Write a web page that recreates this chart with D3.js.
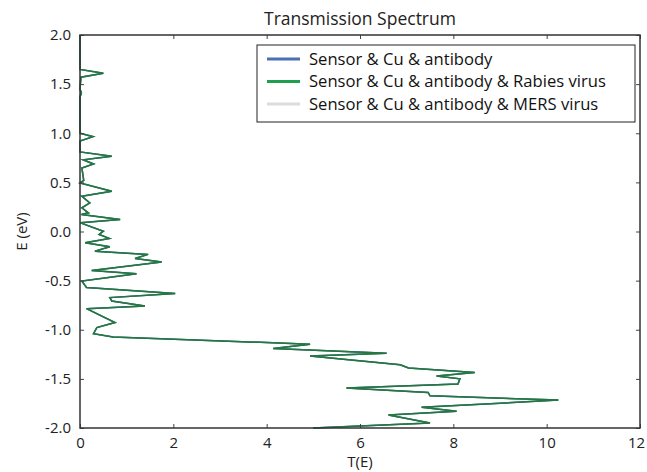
<!DOCTYPE html>
<html>
<head>
<meta charset="utf-8">
<script src="https://cdn.jsdelivr.net/npm/d3@7.9.0/dist/d3.min.js"></script>
<style>
  body { margin: 0; background: #fff; }
  svg { display: block; font-family: "Open Sans", sans-serif; }
</style>
</head>
<body>
<svg id="chart" width="647" height="472"></svg>
<script>
// energy grid (eV) from top to bottom
const energy = [
  2.0, 1.65, 1.611, 1.57, 1.45, 1.41, 1.37, 1.0, 0.965, 0.92,
  0.81, 0.765, 0.73, 0.687, 0.647, 0.52, 0.494, 0.41, 0.358, 0.29,
  0.24, 0.19, 0.173, 0.122, 0.088, 0.003, -0.03, -0.07, -0.115, -0.155,
  -0.2, -0.233, -0.274, -0.31, -0.396, -0.43, -0.505, -0.57, -0.63, -0.673,
  -0.707, -0.758, -0.785, -0.927, -0.978, -1.04, -1.073, -1.147, -1.19, -1.24,
  -1.266, -1.357, -1.39, -1.435, -1.47, -1.5, -1.553, -1.594, -1.638, -1.672,
  -1.716, -1.79, -1.83, -1.868, -1.95, -2.0
];

// transmission T(E) - the three curves lie on top of each other
const transmission = [
  0, 0, 0.5, 0.02, 0, 0.03, 0, 0, 0.28, 0,
  0, 0.68, 0.07, 0.29, 0.04, 0.08, 0, 0.68, 0.04, 0.21,
  0.04, 0.18, 0.03, 0.86, 0.01, 0.5, 0.41, 0.63, 0.11, 0.64,
  0.32, 1.46, 1.18, 1.75, 0.25, 1.21, 0.04, 0.14, 2.04, 0.64,
  0.68, 1.39, 0.14, 0.75, 0.36, 0.29, 0.71, 4.93, 4.14, 6.57,
  4.93, 6.86, 7.04, 8.46, 7.64, 8.14, 8.1, 5.71, 7.46, 7.5,
  10.25, 7.32, 8.07, 6.61, 7.5, 5.0
];

const seriesNames = [
  'Sensor & Cu & antibody',
  'Sensor & Cu & antibody & Rabies virus',
  'Sensor & Cu & antibody & MERS virus'
];
const legendColors = ['#4a6fb5', '#1fa04f', '#dcdcdc'];
const xTicks = [0, 2, 4, 6, 8, 10, 12];
const yTicks = [2.0, 1.5, 1.0, 0.5, 0.0, -0.5, -1.0, -1.5, -2.0];

const margin = { top: 35, right: 7, bottom: 44, left: 80 };
const svg = d3.select('#chart');
const width = +svg.attr('width') - margin.left - margin.right;
const height = +svg.attr('height') - margin.top - margin.bottom;

const x = d3.scaleLinear().domain([0, 12]).range([0, width]);
const y = d3.scaleLinear().domain([-2, 2]).range([height, 0]);

const g = svg.append('g').attr('transform', `translate(${margin.left},${margin.top})`);

const points = energy.map((e, i) => ({ e: e, t: transmission[i] }));
const line = d3.line().x(d => x(d.t)).y(d => y(d.e));

// draw MERS, antibody, then Rabies on top (that is the one we see)
g.append('path').datum(points).attr('d', line)
  .attr('fill', 'none').attr('stroke', '#dcdcdc').attr('stroke-width', 1.5);
g.append('path').datum(points).attr('d', line)
  .attr('fill', 'none').attr('stroke', '#2f5f8f').attr('stroke-width', 1.5);
g.append('path').datum(points).attr('d', line)
  .attr('fill', 'none').attr('stroke', '#23793c').attr('stroke-width', 1.5)
  .attr('stroke-linejoin', 'miter');

// axes: ticks point inward on all four sides (classic matplotlib look)
const tickLen = 4;
g.append('g').attr('class', 'x-axis').attr('transform', `translate(0,${height})`)
  .call(d3.axisBottom(x).tickValues(xTicks).tickSize(-tickLen).tickPadding(9).tickFormat(d3.format('d')));
g.append('g')
  .call(d3.axisTop(x).tickValues(xTicks).tickSize(-tickLen).tickFormat(''));
g.append('g')
  .call(d3.axisLeft(y).tickValues(yTicks).tickSize(-tickLen).tickPadding(9).tickFormat(d => d3.format('.1f')(d).replace('−', '-')));
g.append('g').attr('transform', `translate(${width},0)`)
  .call(d3.axisRight(y).tickValues(yTicks).tickSize(-tickLen).tickFormat(''));

g.selectAll('.domain').remove();
g.selectAll('.tick line').attr('stroke', '#444');
g.selectAll('.tick text').attr('font-size', 15).attr('fill', '#222')
  .attr('font-family', '"Open Sans", sans-serif');
// last x label sits right at the page edge, nudge it in a little
g.select('.x-axis').selectAll('.tick text').filter(d => d === 12).attr('dx', -4);

g.append('rect').attr('width', width).attr('height', height)
  .attr('fill', 'none').attr('stroke', '#333').attr('stroke-width', 1.5);

// title and axis labels
svg.append('text').attr('x', margin.left + width / 2).attr('y', 25)
  .attr('text-anchor', 'middle').attr('font-size', 17.5).attr('fill', '#222')
  .text('Transmission Spectrum');
svg.append('text').attr('x', margin.left + width / 2).attr('y', 467)
  .attr('text-anchor', 'middle').attr('font-size', 15).attr('fill', '#222')
  .text('T(E)');
svg.append('text').attr('transform', `translate(27,${margin.top + height / 2}) rotate(-90)`)
  .attr('text-anchor', 'middle').attr('font-size', 15).attr('fill', '#222')
  .text('E (eV)');

// legend
const lg = svg.append('g').attr('transform', 'translate(257,45)');
lg.append('rect').attr('width', 378).attr('height', 77)
  .attr('fill', '#fff').attr('stroke', '#222').attr('stroke-width', 1);
seriesNames.forEach((name, i) => {
  const row = lg.append('g').attr('transform', `translate(0,${14 + i * 22.5})`);
  row.append('line').attr('x1', 10).attr('x2', 43).attr('y1', 0).attr('y2', 0)
    .attr('stroke', legendColors[i]).attr('stroke-width', 3);
  row.append('text').attr('x', 52).attr('y', 5.5).attr('font-size', 16.6).attr('fill', '#111')
    .text(name);
});
</script>
</body>
</html>
